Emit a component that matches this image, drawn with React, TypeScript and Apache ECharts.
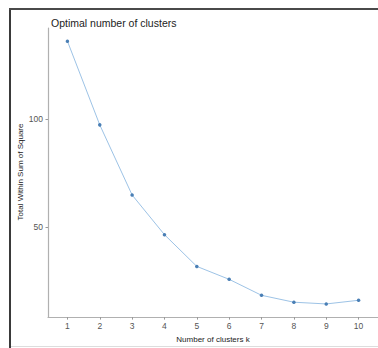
import React, { useEffect, useRef } from "react";
import * as echarts from "echarts";

const kValues = [1, 2, 3, 4, 5, 6, 7, 8, 9, 10];
const wss = [136.1, 97.3, 64.8, 46.4, 31.7, 25.7, 18.3, 15.1, 14.3, 16.0];
const yTicks = [50, 100];
const titleText = "Optimal number of clusters";
const xTitle = "Number of clusters k";
const yTitle = "Total Within Sum of Square";

export default function App() {
  const ref = useRef<HTMLDivElement>(null);
  useEffect(() => {
    document.body.style.margin = "0";
    if (!ref.current) return;
    const chart = echarts.init(ref.current, null, { renderer: "svg" });
    const font = "'Liberation Sans', Arial, sans-serif";
    chart.setOption({
      animation: false,
      backgroundColor: "#ffffff",
      textStyle: { fontFamily: font },
      title: {
        text: titleText,
        left: 46,
        top: 12,
        textStyle: { fontSize: 10.5, fontWeight: "normal", color: "#222", fontFamily: font },
      },
      grid: { left: 48, top: 28, width: 332, height: 293, containLabel: false },
      xAxis: {
        type: "value",
        min: 0.4,
        max: 10.6,
        name: xTitle,
        nameLocation: "middle",
        nameGap: 15,
        nameTextStyle: { fontSize: 8, color: "#222", fontFamily: font },
        axisLine: { lineStyle: { color: "#b0b0b0", width: 1.2 } },
        axisTick: { show: true, length: 2.5, customValues: kValues, lineStyle: { color: "#999" } },
        axisLabel: { customValues: kValues, fontSize: 8.5, color: "#555", margin: 4, fontFamily: font },
        splitLine: { show: false },
      },
      yAxis: {
        type: "value",
        min: 8.2,
        max: 142.2,
        axisLine: { show: true, lineStyle: { color: "#b0b0b0", width: 1.2 } },
        axisTick: { show: true, length: 2.5, customValues: yTicks, lineStyle: { color: "#999" } },
        axisLabel: { customValues: yTicks, fontSize: 8.5, color: "#555", margin: 5, fontFamily: font },
        splitLine: { show: false },
      },
      series: [
        {
          type: "line",
          data: kValues.map((k, i) => [k, wss[i]]),
          symbol: "circle",
          symbolSize: 3.5,
          lineStyle: { color: "#9dc3e6", width: 1 },
          itemStyle: { color: "#4a7fb5" },
        },
      ],
      graphic: [
        { type: "line", shape: { x1: 10, y1: 9, x2: 10, y2: 348 }, style: { stroke: "#3a3a3a", lineWidth: 2 } },
        { type: "line", shape: { x1: 9, y1: 9, x2: 378, y2: 9 }, style: { stroke: "#4a4a4a", lineWidth: 2 } },
        { type: "line", shape: { x1: 11, y1: 346.5, x2: 378, y2: 346.5 }, style: { stroke: "#dddddd", lineWidth: 1 } },
        {
          type: "text",
          x: 20,
          y: 172,
          rotation: Math.PI / 2,
          style: {
            text: yTitle,
            fontSize: 8,
            fill: "#222",
            fontFamily: font,
            align: "center",
            verticalAlign: "middle",
          },
        },
      ],
    });
    return () => chart.dispose();
  }, []);
  return <div ref={ref} style={{ width: 378, height: 348 }} />;
}
